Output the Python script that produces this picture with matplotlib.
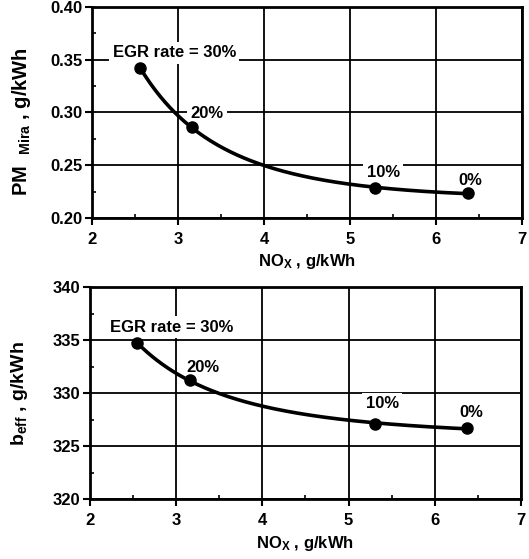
import numpy as np
import matplotlib
matplotlib.use("Agg")
import matplotlib.pyplot as plt
from matplotlib.ticker import MultipleLocator, FormatStrFormatter

plt.rcParams['font.family'] = ['Liberation Sans', 'DejaVu Sans']
plt.rcParams['font.weight'] = 'bold'
plt.rcParams['mathtext.default'] = 'regular'

# data
nox_pm = [2.56, 3.16, 5.29, 6.37]
pm = [0.342, 0.286, 0.2285, 0.2235]
nox_be = [2.55, 3.16, 5.31, 6.37]
beff = [334.7, 331.2, 327.1, 326.7]
egr_labels = ['EGR rate = 30%', '20%', '10%', '0%']


def smooth(x, y):
    # quadratic fit in 1/x for the trend line
    x = np.asarray(x)
    c = np.polyfit(1 / x, y, 2)
    xs = np.linspace(x.min(), x.max(), 200)
    return xs, np.polyval(c, 1 / xs)


def style(ax, ylim, ystep, yminor):
    ax.set_xlim(2, 7)
    ax.set_ylim(*ylim)
    ax.xaxis.set_major_locator(MultipleLocator(1))
    ax.xaxis.set_minor_locator(MultipleLocator(0.5))
    ax.yaxis.set_major_locator(MultipleLocator(ystep))
    ax.yaxis.set_minor_locator(MultipleLocator(yminor))
    ax.grid(True, which='major', color='black', linewidth=1.3, zorder=1)
    ax.set_axisbelow(True)
    for s in ax.spines.values():
        s.set_linewidth(2)
    ax.tick_params(which='major', direction='out', length=5, width=1.5,
                   labelsize=12, pad=2)
    ax.tick_params(axis='x', which='major', pad=5)
    ax.tick_params(which='minor', direction='in', length=3, width=1.2)
    ax.set_xlabel('NO$_X$ , g/kWh', fontsize=12, fontweight='bold', labelpad=4)


# label offsets (points) relative to each marker
offsets_pm = [(24.5, 11), (11, 10), (6, 11), (1.5, 9.5)]
offsets_be = [(25, 11.5), (9, 9.5), (5, 14.5), (3, 11)]

fig = plt.figure(figsize=(5.29, 5.59), dpi=100)
ax1 = fig.add_axes([0.174, 0.610, 0.813, 0.3775])
ax2 = fig.add_axes([0.170, 0.107, 0.815, 0.3796])

for ax, x, y, offs in [(ax1, nox_pm, pm, offsets_pm), (ax2, nox_be, beff, offsets_be)]:
    xs, ys = smooth(x, y)
    ax.plot(xs, ys, color='black', linewidth=2.6, zorder=4, solid_capstyle='round')
    ax.plot(x, y, 'o', color='black', markersize=8, zorder=5)
    for xi, yi, lab, off in zip(x, y, egr_labels, offs):
        ax.annotate(lab, (xi, yi), textcoords='offset points', xytext=off,
                    ha='center', va='center', fontsize=12, fontweight='bold',
                    bbox=dict(boxstyle='square,pad=0.2', fc='white', ec='none'),
                    zorder=3)

style(ax1, (0.20, 0.40), 0.05, 0.025)
ax1.yaxis.set_major_formatter(FormatStrFormatter('%.2f'))
ax1.set_ylabel('PM  $_{Mira}$ , g/kWh', fontsize=14.5, fontweight='bold')
ax1.yaxis.set_label_coords(-0.137, 0.455)

style(ax2, (320, 340), 5, 2.5)
ax2.set_ylabel('b$_{eff}$ , g/kWh', fontsize=14, fontweight='bold')
ax2.yaxis.set_label_coords(-0.139, 0.5)

fig.savefig('out.png', dpi=100)
